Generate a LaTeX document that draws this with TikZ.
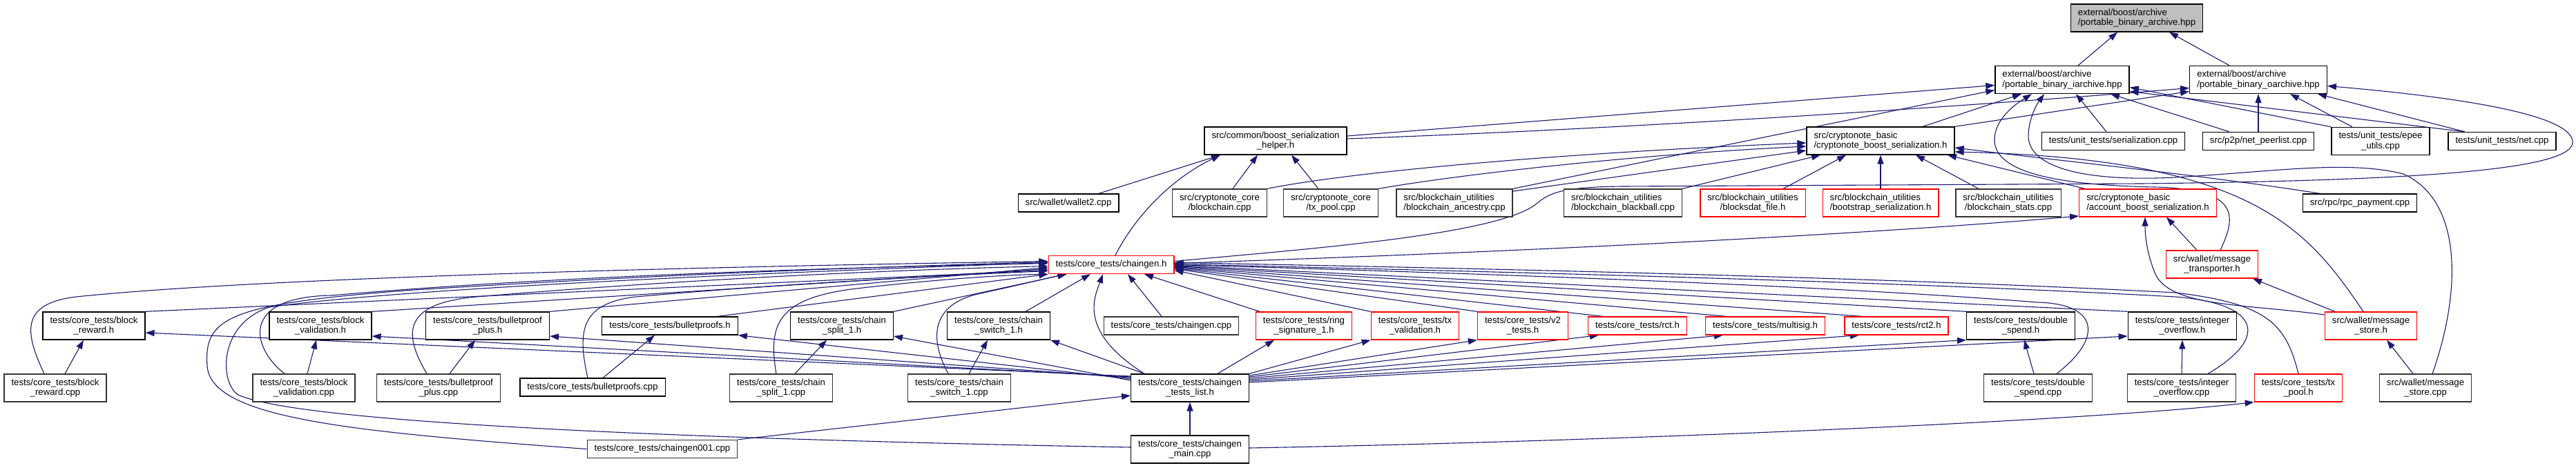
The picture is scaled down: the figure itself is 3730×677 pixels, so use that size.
\documentclass[tikz,border=0pt]{standalone}
\usepackage{fontspec}
\setmainfont{Liberation Sans}
\usetikzlibrary{arrows.meta,backgrounds}
\definecolor{edgeblue}{HTML}{191970}
\definecolor{truncred}{HTML}{FF0000}
\definecolor{rootgray}{HTML}{BFBFBF}

\begin{document}
\begin{tikzpicture}[x=1pt,y=-1pt,
    inc/.style={draw=black, line width=1.3pt, fill=white, rectangle, inner xsep=10.5pt, inner ysep=2pt,
      minimum height=26pt, align=center, font=\fontsize{13.2}{14.5}\selectfont},
    incg/.style={inc, draw=black!80},
    trunc/.style={inc, draw=truncred},
    two/.style={minimum height=40pt},
    lft/.style={align=left},
    dep/.style={draw=edgeblue, line width=1.1pt, -{Triangle[length=13pt,width=9pt]}}]
    \useasboundingbox (0,0) rectangle (3730,677);

    \node[inc, two, lft, fill=rootgray] (root) at (3094,26) {external/boost/archive\\/portable\_binary\_archive.hpp};

    \node[inc, two, lft] (iarch) at (2986,115.5) {external/boost/archive\\/portable\_binary\_iarchive.hpp};
    \node[inc, two, lft] (oarch) at (3270,115.5) {external/boost/archive\\/portable\_binary\_oarchive.hpp};

    \node[inc, two] (helper) at (1847,204) {src/common/boost\_serialization\\\_helper.h};
    \node[inc, two, lft] (cbser) at (2723,204) {src/cryptonote\_basic\\/cryptonote\_boost\_serialization.h};
    \node[inc] (utser) at (3060,204.5) {tests/unit\_tests/serialization.cpp};
    \node[inc] (peerlist) at (3270,204.5) {src/p2p/net\_peerlist.cpp};
    \node[inc, two] (epee) at (3447,204.5) {tests/unit\_tests/epee\\\_utils.cpp};
    \node[inc] (utnet) at (3623,204.5) {tests/unit\_tests/net.cpp};

    \node[inc] (wallet2) at (1547,294) {src/wallet/wallet2.cpp};
    \node[incg, two] (bccpp) at (1766,294) {src/cryptonote\_core\\/blockchain.cpp};
    \node[incg, two] (txpcpp) at (1927,294) {src/cryptonote\_core\\/tx\_pool.cpp};
    \node[incg, two, lft] (ancestry) at (2106,294) {src/blockchain\_utilities\\/blockchain\_ancestry.cpp};
    \node[incg, two, lft] (blackball) at (2350,294) {src/blockchain\_utilities\\/blockchain\_blackball.cpp};
    \node[trunc, two] (blocksdat) at (2538,294) {src/blockchain\_utilities\\/blocksdat\_file.h};
    \node[trunc, two, lft] (bootstrap) at (2723,294) {src/blockchain\_utilities\\/bootstrap\_serialization.h};
    \node[incg, two] (bstats) at (2908,294) {src/blockchain\_utilities\\/blockchain\_stats.cpp};
    \node[trunc, two, lft] (acctser) at (3110,294) {src/cryptonote\_basic\\/account\_boost\_serialization.h};
    \node[inc] (rpcpay) at (3417,294) {src/rpc/rpc\_payment.cpp};

    \node[trunc] (cgh) at (1609,383.5) {tests/core\_tests/chaingen.h};
    \node[trunc, two] (transp) at (3203,383) {src/wallet/message\\\_transporter.h};

    \node[inc, two] (brh) at (136,472) {tests/core\_tests/block\\\_reward.h};
    \node[inc, two] (bvh) at (464,472) {tests/core\_tests/block\\\_validation.h};
    \node[inc, two] (bpph) at (706,472) {tests/core\_tests/bulletproof\\\_plus.h};
    \node[inc] (bph) at (970,472) {tests/core\_tests/bulletproofs.h};
    \node[inc, two] (csh) at (1219,472) {tests/core\_tests/chain\\\_split\_1.h};
    \node[inc, two] (cswh) at (1446,472) {tests/core\_tests/chain\\\_switch\_1.h};
    \node[incg] (cgcpp) at (1696,472) {tests/core\_tests/chaingen.cpp};
    \node[trunc, two] (ringh) at (1888,472) {tests/core\_tests/ring\\\_signature\_1.h};
    \node[trunc, two] (txvh) at (2049,472) {tests/core\_tests/tx\\\_validation.h};
    \node[trunc, two] (v2h) at (2205,472) {tests/core\_tests/v2\\\_tests.h};
    \node[trunc] (rcth) at (2371,472) {tests/core\_tests/rct.h};
    \node[trunc] (msigh) at (2556,472) {tests/core\_tests/multisig.h};
    \node[trunc] (rct2h) at (2746,472) {tests/core\_tests/rct2.h};
    \node[inc, two] (dsh) at (2926,472) {tests/core\_tests/double\\\_spend.h};
    \node[inc, two] (ioh) at (3160,472) {tests/core\_tests/integer\\\_overflow.h};
    \node[trunc, two] (msgh) at (3433,472) {src/wallet/message\\\_store.h};

    \node[incg, two] (brcpp) at (80,562) {tests/core\_tests/block\\\_reward.cpp};
    \node[incg, two] (bvcpp) at (440,562) {tests/core\_tests/block\\\_validation.cpp};
    \node[incg, two] (bppcpp) at (635,562) {tests/core\_tests/bulletproof\\\_plus.cpp};
    \node[inc] (bpcpp) at (858,561) {tests/core\_tests/bulletproofs.cpp};
    \node[incg, two] (cscpp) at (1131,562) {tests/core\_tests/chain\\\_split\_1.cpp};
    \node[incg, two] (cswcpp) at (1389,562) {tests/core\_tests/chain\\\_switch\_1.cpp};
    \node[inc, two] (tlist) at (1723,562) {tests/core\_tests/chaingen\\\_tests\_list.h};
    \node[incg, two] (dscpp) at (2951,562) {tests/core\_tests/double\\\_spend.cpp};
    \node[incg, two] (iocpp) at (3159,562) {tests/core\_tests/integer\\\_overflow.cpp};
    \node[trunc, two] (txph) at (3328,562) {tests/core\_tests/tx\\\_pool.h};
    \node[incg, two] (msgcpp) at (3512,562) {src/wallet/message\\\_store.cpp};

    \node[incg] (cg001) at (959,650.5) {tests/core\_tests/chaingen001.cpp};
    \node[inc, two] (cgmain) at (1723,651) {tests/core\_tests/chaingen\\\_main.cpp};

    \begin{scope}[on background layer]
    \draw[dep] ([xshift=23pt]iarch.north) -- ([xshift=-28pt]root.south);
    \draw[dep] ([xshift=-42pt]oarch.north) -- ([xshift=47pt]root.south);

    \draw[dep] ([yshift=7pt]helper.east) -- ([yshift=-8pt]iarch.west);
    \draw[dep] ([yshift=3pt]helper.east) .. controls (2400,185) and (2900,150) .. ([yshift=-12pt]oarch.west);
    \draw[dep] ([xshift=61pt]cbser.north) -- ([xshift=-59pt]iarch.south);
    \draw[dep] (cbser.north east) -- ([yshift=-17pt]oarch.west);
    \draw[dep] (ancestry.north east) -- ([yshift=-15pt]iarch.west);
    \draw[dep] ([xshift=-10pt]utser.north) -- ([xshift=20pt]iarch.south);
    \draw[dep] ([xshift=-42pt]peerlist.north) -- ([xshift=70pt]iarch.south);
    \draw[dep] (epee.north west) -- ([yshift=-11pt]iarch.east);
    \draw[dep] ([xshift=-54pt]utnet.north) -- ([yshift=-17pt]iarch.east);
    \draw[dep] ([xshift=12pt]transp.north) .. controls (3240,310) and (3240,274) .. (3120,271)
      .. controls (2960,268) and (2885,245) .. (2888,200) .. controls (2890,170) and (2920,150) .. ([xshift=-44pt]iarch.south);
    \draw[dep] ([xshift=10pt]msgcpp.north) .. controls (3565,420) and (3565,290) .. (3480,252)
      .. controls (3400,232) and (3300,248) .. (3150,257) .. controls (3010,264) and (2935,240) .. (2937,195)
      .. controls (2938,170) and (2950,150) .. ([xshift=-26pt]iarch.south);

    \draw[dep] (peerlist.north) -- (oarch.south);
    \draw[dep] ([xshift=-41pt]epee.north) -- ([xshift=46pt]oarch.south);
    \draw[dep] ([xshift=-54pt]utnet.north) -- ([xshift=86pt]oarch.south);
    \draw[dep] ([yshift=5pt]cgh.east) .. controls (1900,360) and (2170,340) .. (2225,295)
      .. controls (2245,278) and (2265,271) .. (2350,270) -- (3100,266)
      .. controls (3450,262) and (3722,250) .. (3725,207) .. controls (3728,165) and (3550,140) .. ([yshift=-9pt]oarch.east);

    \draw[dep] ([xshift=44pt]wallet2.north) -- ([xshift=-80pt]helper.south);
    \draw[dep] ([xshift=6pt]cgh.north) .. controls (1640,320) and (1690,262) .. ([xshift=-80pt]helper.south);
    \draw[dep] ([xshift=19pt]bccpp.north) -- ([xshift=-26pt]helper.south);
    \draw[dep] ([xshift=-18pt]txpcpp.north) -- ([xshift=23pt]helper.south);

    \draw[dep] (bccpp.north east) .. controls (1950,250) and (2250,222) .. ([yshift=-3pt]cbser.west);
    \draw[dep] (txpcpp.north east) .. controls (2100,255) and (2350,225) .. ([yshift=-8pt]cbser.west);
    \draw[dep] ([yshift=17pt]ancestry.east) -- ([yshift=-14pt]cbser.west);
    \draw[dep] (blackball.north east) -- ([xshift=-87pt]cbser.south);
    \draw[dep] ([xshift=44pt]blocksdat.north) -- ([xshift=-50pt]cbser.south);
    \draw[dep] (bootstrap.north) -- (cbser.south);
    \draw[dep] ([xshift=-43pt]bstats.north) -- ([xshift=51pt]cbser.south);
    \draw[dep] ([xshift=-91pt]acctser.north) -- ([xshift=97pt]cbser.south);
    \draw[dep] ([xshift=-58pt]rpcpay.north) .. controls (3200,255) and (3000,235) .. ([yshift=-10pt]cbser.east);
    \draw[dep] ([xshift=-11pt]msgh.north) .. controls (3340,330) and (3260,230) .. ([yshift=-16pt]cbser.east);

    \draw[dep] ([yshift=2pt]cgh.east) .. controls (2200,365) and (2700,340) .. ([yshift=-19pt]acctser.west);
    \draw[dep] ([xshift=-22pt]transp.north) -- ([xshift=27pt]acctser.south);
    \draw[dep] ([yshift=16pt]msgh.west) .. controls (3250,440) and (3140,445) .. (3120,395)
      .. controls (3108,365) and (3106,340) .. ([xshift=-4pt]acctser.south);
    \draw[dep] ([xshift=-52pt]msgh.north) -- ([xshift=59pt]transp.south);
    \draw[dep] ([xshift=-18pt]msgcpp.north) -- ([xshift=23pt]msgh.south);

    \draw[dep] (brh.north east) -- ([yshift=-8pt]cgh.west);
    \draw[dep] (bvh.north east) -- ([yshift=-6pt]cgh.west);
    \draw[dep] (bpph.north east) -- ([yshift=-4pt]cgh.west);
    \draw[dep] ([xshift=-30pt]bph.north east) -- (cgh.south west);
    \draw[dep] (csh.north east) -- ([xshift=27pt]cgh.south west);
    \draw[dep] ([xshift=39pt]cswh.north) -- ([xshift=-30pt]cgh.south);
    \draw[dep] ([xshift=-14pt]cgcpp.north) -- ([xshift=24pt]cgh.south);
    \draw[dep] ([xshift=-66pt]tlist.north) .. controls (1560,480) and (1585,430) .. ([xshift=-12pt]cgh.south);
    \draw[dep] ([xshift=-64pt]ringh.north) -- ([xshift=48pt]cgh.south);

    \draw[dep] ([xshift=-16pt]brcpp.north) .. controls (35,480) and (30,440) .. (110,430)
      .. controls (400,400) and (1100,385) .. ([yshift=5pt]cgh.west);
    \draw[dep] ([xshift=-28pt]bvcpp.north) .. controls (365,505) and (345,430) .. (480,428)
      .. controls (800,400) and (1200,388) .. ([yshift=2pt]cgh.west);
    \draw[dep] ([xshift=-17pt]bppcpp.north) .. controls (588,490) and (575,440) .. (690,430)
      .. controls (950,408) and (1250,392) .. ([yshift=-2pt]cgh.west);
    \draw[dep] ([xshift=-7pt]bpcpp.north) .. controls (836,480) and (840,440) .. (920,430)
      .. controls (1150,410) and (1350,400) .. ([yshift=-9pt]cgh.west);
    \draw[dep] ([xshift=-7pt]cscpp.north) .. controls (1112,470) and (1125,432) .. (1240,418)
      .. controls (1380,402) and (1470,398) .. (cgh.south west);
    \draw[dep] ([xshift=-16pt]cswcpp.north) .. controls (1345,490) and (1348,440) .. (1420,425)
      .. controls (1480,412) and (1520,402) .. ([xshift=27pt]cgh.south west);
    \draw[dep] (cg001.west) .. controls (500,625) and (305,605) .. (300,530)
      .. controls (295,460) and (330,440) .. (600,420) .. controls (1000,395) and (1300,386) .. ([yshift=4pt]cgh.west);
    \draw[dep] ([yshift=3pt]cgmain.west) .. controls (1200,640) and (450,620) .. (345,572)
      .. controls (318,555) and (315,470) .. (390,445) .. controls (600,415) and (1200,392) .. ([yshift=3pt]cgh.west);

    \draw[dep] (txvh.north west) -- ([yshift=-8pt]cgh.east);
    \draw[dep] (v2h.north west) -- ([yshift=-6pt]cgh.east);
    \draw[dep] ([xshift=-50pt]rcth.north) -- ([yshift=-5pt]cgh.east);
    \draw[dep] ([xshift=-56pt]msigh.north) -- ([yshift=-4pt]cgh.east);
    \draw[dep] ([xshift=-49pt]rct2h.north) -- ([yshift=-3pt]cgh.east);
    \draw[dep] (dsh.north west) -- ([yshift=-2pt]cgh.east);
    \draw[dep] (ioh.north west) -- ([yshift=-1pt]cgh.east);
    \draw[dep] ([xshift=27pt]dscpp.north) .. controls (3045,490) and (3040,440) .. (2950,438)
      .. controls (2600,410) and (2000,392) .. (cgh.east);
    \draw[dep] ([xshift=38pt]iocpp.north) .. controls (3285,490) and (3275,440) .. (3150,430)
      .. controls (2700,405) and (2000,390) .. ([yshift=1pt]cgh.east);
    \draw[dep] (txph.north) .. controls (3310,470) and (3285,440) .. (3150,424)
      .. controls (2700,400) and (2000,386) .. ([yshift=3pt]cgh.east);

    \draw[dep] ([yshift=17pt]tlist.west) -- ([yshift=-10pt]brh.east);
    \draw[dep] ([yshift=16pt]tlist.west) -- ([yshift=-15pt]bvh.east);
    \draw[dep] ([yshift=15pt]tlist.west) -- ([yshift=-15pt]bpph.east);
    \draw[dep] ([yshift=13pt]tlist.west) -- (bph.south east);
    \draw[dep] ([yshift=11pt]tlist.west) -- ([yshift=-15pt]csh.east);
    \draw[dep] ([xshift=-66pt]tlist.north) -- (cswh.south east);
    \draw[dep] ([xshift=40pt]tlist.north) -- ([xshift=-43pt]ringh.south);
    \draw[dep] (tlist.north east) -- (txvh.south west);
    \draw[dep] ([yshift=18pt]tlist.east) -- (v2h.south west);
    \draw[dep] ([yshift=16pt]tlist.east) -- ([xshift=-56pt]rcth.south);
    \draw[dep] ([yshift=14pt]tlist.east) -- ([xshift=-61pt]msigh.south);
    \draw[dep] ([yshift=12pt]tlist.east) -- ([xshift=-54pt]rct2h.south);
    \draw[dep] ([yshift=10pt]tlist.east) -- (dsh.south west);
    \draw[dep] ([yshift=8pt]tlist.east) -- ([yshift=-15pt]ioh.west);

    \draw[dep] ([xshift=14pt]brcpp.north) -- ([xshift=-15pt]brh.south);
    \draw[dep] ([xshift=5pt]bvcpp.north) -- ([xshift=-6pt]bvh.south);
    \draw[dep] ([xshift=16pt]bppcpp.north) -- ([xshift=-18pt]bpph.south);
    \draw[dep] ([xshift=15pt]bpcpp.north) -- ([xshift=-22pt]bph.south);
    \draw[dep] ([xshift=20pt]cscpp.north) -- ([xshift=-22pt]csh.south);
    \draw[dep] ([xshift=14pt]cswcpp.north) -- ([xshift=-16pt]cswh.south);
    \draw[dep] ([xshift=-6pt]dscpp.north) -- ([xshift=5pt]dsh.south);
    \draw[dep] (iocpp.north) -- (ioh.south);
    \draw[dep] (cg001.north east) -- ([yshift=-11pt]tlist.west);
    \draw[dep] (cgmain.north) -- (tlist.south);
    \draw[dep] ([yshift=2pt]cgmain.east) .. controls (2300,640) and (3000,612) .. (txph.south west);
    \end{scope}
\end{tikzpicture}
\end{document}
